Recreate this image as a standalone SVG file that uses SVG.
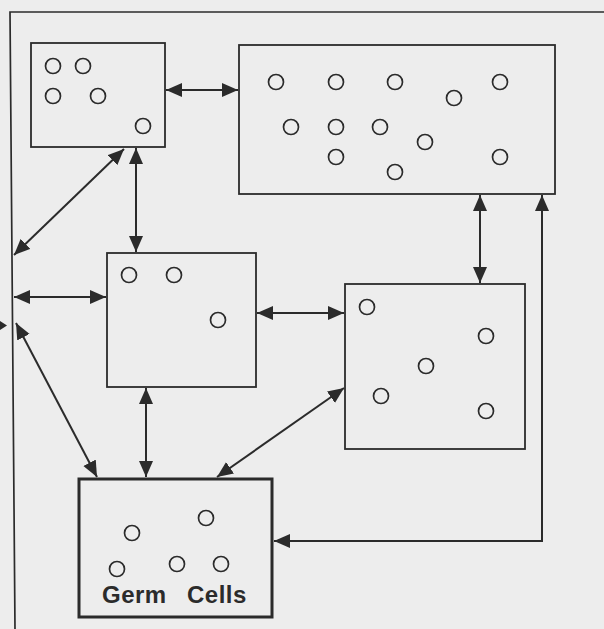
<svg xmlns="http://www.w3.org/2000/svg" width="604" height="629" viewBox="0 0 604 629">
<style>
.box{fill:none;stroke:#2b2b2b;stroke-width:1.8}
.germ{fill:none;stroke:#2b2b2b;stroke-width:3}
.cell{fill:none;stroke:#2b2b2b;stroke-width:1.7}
.con{fill:none;stroke:#2b2b2b;stroke-width:2}
.frame{fill:none;stroke:#2b2b2b;stroke-width:1.7}
.lbl{font-family:"Liberation Sans",Arial,sans-serif;font-size:24px;font-weight:bold;fill:#2b2b2b;letter-spacing:0.5px}
</style>
<defs>
<marker id="ah" markerUnits="userSpaceOnUse" markerWidth="17" markerHeight="15" refX="16" refY="7" orient="auto-start-reverse">
<path d="M0,0 L16,7 L0,14 z" fill="#2b2b2b"/>
</marker>
</defs>
<rect width="604" height="629" fill="#ededed"/>
<g id="frame">
<path class="frame" d="M604,12 L10,12 L15,629"/>
<path d="M0,321 L7,325.5 L0,330 z" fill="#2b2b2b"/>
</g>
<g id="connectors">
<line class="con" x1="166" y1="90" x2="238" y2="90" marker-start="url(#ah)" marker-end="url(#ah)"/>
<line class="con" x1="124" y1="149" x2="14" y2="255" marker-start="url(#ah)" marker-end="url(#ah)"/>
<line class="con" x1="136" y1="148" x2="136" y2="252" marker-start="url(#ah)" marker-end="url(#ah)"/>
<line class="con" x1="14" y1="297" x2="106" y2="297" marker-start="url(#ah)" marker-end="url(#ah)"/>
<line class="con" x1="16" y1="323" x2="97" y2="477" marker-start="url(#ah)" marker-end="url(#ah)"/>
<line class="con" x1="146" y1="388" x2="146" y2="477" marker-start="url(#ah)" marker-end="url(#ah)"/>
<line class="con" x1="257" y1="313" x2="344" y2="313" marker-start="url(#ah)" marker-end="url(#ah)"/>
<line class="con" x1="344" y1="388" x2="217" y2="477" marker-start="url(#ah)" marker-end="url(#ah)"/>
<line class="con" x1="480" y1="195" x2="480" y2="283" marker-start="url(#ah)" marker-end="url(#ah)"/>
<polyline class="con" points="274,541 542,541 542,195" marker-start="url(#ah)" marker-end="url(#ah)"/>
</g>
<g id="boxA">
<rect class="box" x="31" y="43" width="134" height="104"/>
<circle class="cell" cx="53" cy="66" r="7.5"/>
<circle class="cell" cx="83" cy="66" r="7.5"/>
<circle class="cell" cx="53" cy="96" r="7.5"/>
<circle class="cell" cx="98" cy="96" r="7.5"/>
<circle class="cell" cx="143" cy="126" r="7.5"/>
</g>
<g id="boxB">
<rect class="box" x="239" y="45" width="316" height="149"/>
<circle class="cell" cx="276" cy="82" r="7.5"/>
<circle class="cell" cx="336" cy="82" r="7.5"/>
<circle class="cell" cx="395" cy="82" r="7.5"/>
<circle class="cell" cx="454" cy="98" r="7.5"/>
<circle class="cell" cx="500" cy="82" r="7.5"/>
<circle class="cell" cx="291" cy="127" r="7.5"/>
<circle class="cell" cx="336" cy="127" r="7.5"/>
<circle class="cell" cx="380" cy="127" r="7.5"/>
<circle class="cell" cx="425" cy="142" r="7.5"/>
<circle class="cell" cx="336" cy="157" r="7.5"/>
<circle class="cell" cx="395" cy="172" r="7.5"/>
<circle class="cell" cx="500" cy="157" r="7.5"/>
</g>
<g id="boxC">
<rect class="box" x="107" y="253" width="149" height="134"/>
<circle class="cell" cx="129" cy="275" r="7.5"/>
<circle class="cell" cx="174" cy="275" r="7.5"/>
<circle class="cell" cx="218" cy="320" r="7.5"/>
</g>
<g id="boxD">
<rect class="box" x="345" y="284" width="180" height="165"/>
<circle class="cell" cx="367" cy="307" r="7.5"/>
<circle class="cell" cx="486" cy="336" r="7.5"/>
<circle class="cell" cx="426" cy="366" r="7.5"/>
<circle class="cell" cx="381" cy="396" r="7.5"/>
<circle class="cell" cx="486" cy="411" r="7.5"/>
</g>
<g id="germCells">
<rect class="germ" x="79" y="479" width="193" height="138"/>
<circle class="cell" cx="132" cy="533" r="7.5"/>
<circle class="cell" cx="206" cy="518" r="7.5"/>
<circle class="cell" cx="117" cy="569" r="7.5"/>
<circle class="cell" cx="177" cy="564" r="7.5"/>
<circle class="cell" cx="221" cy="564" r="7.5"/>
<text class="lbl" x="102" y="603">Germ</text>
<text class="lbl" x="187" y="603">Cells</text>
</g>
</svg>
